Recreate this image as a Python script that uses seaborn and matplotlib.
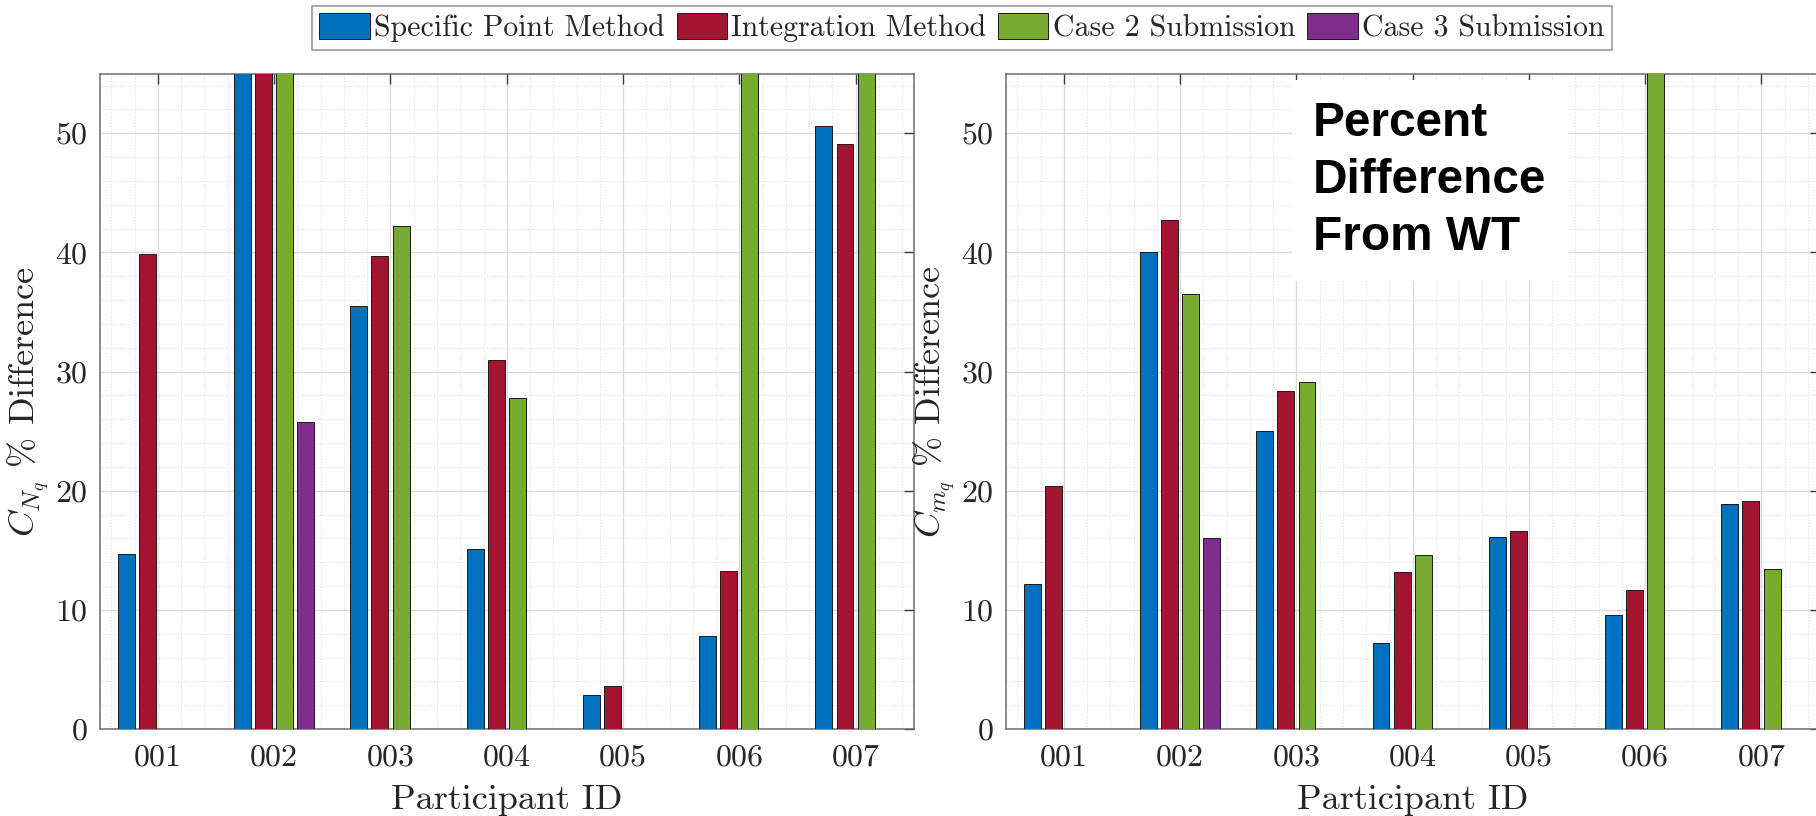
import numpy as np
import pandas as pd
import matplotlib
matplotlib.use("Agg")
import matplotlib.pyplot as plt
from matplotlib.ticker import MultipleLocator
import seaborn as sns

# ---------------- data ----------------
participants = ["001", "002", "003", "004", "005", "006", "007"]
series = ["Specific Point Method", "Integration Method", "Case 2 Submission", "Case 3 Submission"]
colors = ["#0072BD", "#A2142F", "#77AC30", "#7E2F8E"]

# C_Nq percent difference (values above 55 are clipped in the figure)
cnq_specific    = [14.7, 62.0, 35.5, 15.1, 2.85, 7.8, 50.6]
cnq_integration = [39.9, 64.0, 39.7, 31.0, 3.65, 13.3, 49.1]
cnq_case2       = [np.nan, 66.0, 42.2, 27.8, np.nan, 70.0, 75.0]
cnq_case3       = [np.nan, 25.8, np.nan, np.nan, np.nan, np.nan, np.nan]

# C_mq percent difference
cmq_specific    = [12.2, 40.0, 25.0, 7.25, 16.1, 9.55, 18.9]
cmq_integration = [20.4, 42.7, 28.4, 13.2, 16.65, 11.7, 19.1]
cmq_case2       = [np.nan, 36.5, 29.15, 14.6, np.nan, 68.0, 13.4]
cmq_case3       = [np.nan, 16.0, np.nan, np.nan, np.nan, np.nan, np.nan]

ylim_max = 55
annotation = "Percent\nDifference\nFrom WT"


def long_frame(cols):
    rows = []
    for s, vals in zip(series, cols):
        for p, v in zip(participants, vals):
            rows.append({"Participant": p, "Series": s, "Value": v})
    return pd.DataFrame(rows)


df_n = long_frame([cnq_specific, cnq_integration, cnq_case2, cnq_case3])
df_m = long_frame([cmq_specific, cmq_integration, cmq_case2, cmq_case3])

# ---------------- style ----------------
sns.set_style("white")
plt.rcParams["font.family"] = ["cmr10", "DejaVu Serif"]
plt.rcParams["mathtext.fontset"] = "cm"
plt.rcParams["axes.formatter.use_mathtext"] = True
plt.rcParams["axes.unicode_minus"] = False

fig = plt.figure(figsize=(18.16, 8.16), dpi=100)
ax1 = fig.add_axes([0.05496, 0.1066, 0.4482, 0.8032])
ax2 = fig.add_axes([0.5538, 0.1066, 0.4482, 0.8032])

spine_col = "#6e6e6e"
for ax, df, ylab in [(ax1, df_n, r"$C_{N_q}$ % Difference"),
                     (ax2, df_m, r"$C_{m_q}$ % Difference")]:
    sns.barplot(data=df, x="Participant", y="Value", hue="Series",
                order=participants, hue_order=series, palette=colors,
                width=0.727, gap=0.2, dodge=True, errorbar=None,
                edgecolor="#1a1a1a", linewidth=0.7, saturation=1,
                legend=(ax is ax1), ax=ax, zorder=3)
    ax.set_xlim(-0.5, 6.5)
    ax.set_ylim(0, ylim_max)
    ax.yaxis.set_major_locator(MultipleLocator(10))
    ax.yaxis.set_minor_locator(MultipleLocator(2))
    ax.xaxis.set_minor_locator(MultipleLocator(0.2))
    ax.grid(True, which="major", color="#dadada", linewidth=0.9, zorder=0)
    ax.grid(True, which="minor", color="#e2e2e2", linewidth=0.8,
            linestyle=(0, (1, 1.5)), zorder=0)
    ax.set_axisbelow(True)
    ax.tick_params(which="major", direction="in", length=7, width=1,
                   color="#3a3a3a", top=True, right=True,
                   labelsize=23, pad=9, labelcolor="#262626")
    ax.tick_params(axis="x", which="major", pad=11)
    ax.tick_params(which="minor", length=0)
    for sp in ax.spines.values():
        sp.set_color(spine_col)
        sp.set_linewidth(1.1)
        sp.set_visible(True)
    ax.set_xlabel("Participant ID", fontsize=26, color="#262626", labelpad=9)
    ax.set_ylabel(ylab, fontsize=26, color="#262626", labelpad=2)

handles, labels = ax1.get_legend_handles_labels()
ax1.get_legend().remove()
leg = fig.legend(handles, labels, loc="center", bbox_to_anchor=(0.5297, 0.966),
                 ncol=4, fontsize=21.5, frameon=True, fancybox=False,
                 edgecolor="#9a9a9a", framealpha=1, borderpad=0.25,
                 handlelength=1.68, handleheight=0.94, handletextpad=0.15,
                 columnspacing=0.4, borderaxespad=0)
leg.get_frame().set_linewidth(1.2)

ax2.text(0.3776, 0.958, annotation, transform=ax2.transAxes,
         ha="left", va="top", fontsize=34.4, fontweight="bold",
         family=["Liberation Sans", "DejaVu Sans"], color="black",
         linespacing=1.34, zorder=5,
         bbox=dict(boxstyle="square,pad=0.45", facecolor="white",
                   edgecolor="none"))

fig.savefig("out.png", dpi=100)
